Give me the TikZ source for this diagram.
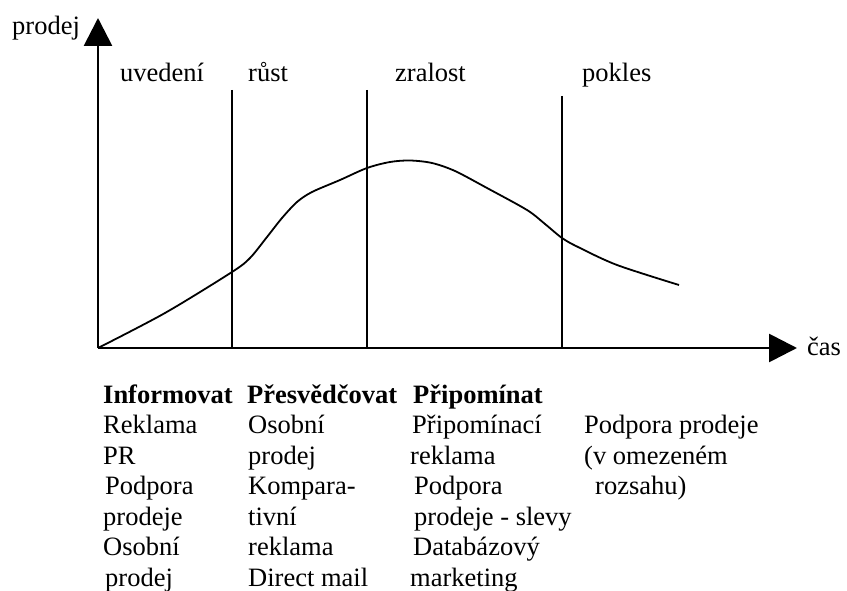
\documentclass[tikz,border=0pt]{standalone}
\usepackage{fontspec}
\setmainfont{Liberation Serif}
\usetikzlibrary{arrows.meta}
\tikzset{
  txt/.style={anchor=base west, inner sep=0pt, font=\fontsize{26.5}{31}\selectfont},
  btxt/.style={txt, font=\fontsize{26.5}{31}\selectfont\bfseries},
  axisline/.style={line width=2.8pt, -{Triangle[length=28pt,width=28pt]}},
  divider/.style={line width=1.8pt},
  curveline/.style={line width=1.8pt, line join=round}
}
\begin{document}
\begin{tikzpicture}[x=1pt,y=-1pt]
\useasboundingbox (0,0) rectangle (847,591);
% axes
\coordinate (O) at (98,348);
\coordinate (ytip) at (98,18);
\coordinate (xtip) at (797,348);
\draw[axisline] (O) -- (ytip);
\draw[axisline] (O) -- (xtip);
% dividers
\coordinate (d1t) at (232,90);  \coordinate (d1b) at (232,348);
\coordinate (d2t) at (367,90);  \coordinate (d2b) at (367,348);
\coordinate (d3t) at (562,96);  \coordinate (d3b) at (562,348);
\draw[divider] (d1t) -- (d1b);
\draw[divider] (d2t) -- (d2b);
\draw[divider] (d3t) -- (d3b);
% curve
\draw[curveline] plot[smooth, tension=0.5] coordinates {
 (98,348) (165,313) (232,272) (250,258) (267,237) (282,218) (297,202)
 (312,192) (340,180) (367,168) (390,162) (410,160.5) (432,163) (455,171)
 (487,188) (527,210) (545,224) (562,238) (578,247) (617,265) (679,285)};
% axis labels
\node[txt] (lprodej) at (12,35) {prodej};
\node[txt] (lcas) at (807,355) {čas};
% phase labels
\node[txt] (luv) at (120,82) {uvedení};
\node[txt] (lru) at (248,82) {růst};
\node[txt] (lzr) at (395,82) {zralost};
\node[txt] (lpo) at (582,82) {pokles};
% column 1
\node[btxt] (a0) at (103,403) {Informovat};
\node[txt] (a1) at (103,433.5) {Reklama};
\node[txt] (a2) at (103,464) {PR};
\node[txt] (a3) at (105,494.5) {Podpora};
\node[txt] (a4) at (103,525) {prodeje};
\node[txt] (a5) at (103,555.5) {Osobní};
\node[txt] (a6) at (105,586) {prodej};
% column 2
\node[btxt] (b0) at (247,403) {Přesvědčovat};
\node[txt] (b1) at (248,433.5) {Osobní};
\node[txt] (b2) at (248,464) {prodej};
\node[txt] (b3) at (248,494.5) {Kompara-};
\node[txt] (b4) at (248,525) {tivní};
\node[txt] (b5) at (248,555.5) {reklama};
\node[txt] (b6) at (248,586) {Direct mail};
% column 3
\node[btxt] (c0) at (413,403) {Připomínat};
\node[txt] (c1) at (412,433.5) {Připomínací};
\node[txt] (c2) at (410,464) {reklama};
\node[txt] (c3) at (414,494.5) {Podpora};
\node[txt] (c4) at (414,525) {prodeje - slevy};
\node[txt] (c5) at (413,555.5) {Databázový};
\node[txt] (c6) at (410,586) {marketing};
% column 4
\node[txt] (e1) at (584,433.5) {Podpora prodeje};
\node[txt] (e2) at (584,464) {(v omezeném};
\node[txt] (e3) at (595,494.5) {rozsahu)};
\end{tikzpicture}
\end{document}
